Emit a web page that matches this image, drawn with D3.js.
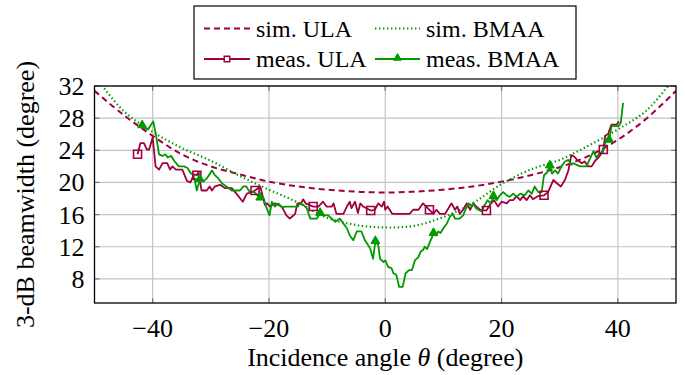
<!DOCTYPE html>
<html>
<head>
<meta charset="utf-8"/>
<script src="https://d3js.org/d3.v7.min.js"></script>
</head>
<body style="margin:0">
<script>

// simulated curves, read at 5 degree steps
var simAngles = [-50, -45, -40, -35, -30, -25, -20, -15, -10, -5, 0, 5, 10, 15, 20, 25, 30, 35, 40, 45, 50];
var simULA  = [31.4, 28.4, 25.8, 23.5, 22.0, 21.0, 20.1, 19.5, 19.1, 18.85, 18.75, 18.85, 19.1, 19.5, 20.1, 20.9, 21.9, 23.3, 25.3, 28.0, 31.4];
var simBMAA = [33.3, 28.9, 26.3, 24.3, 22.7, 20.8, 19.1, 17.5, 15.6, 14.7, 14.4, 14.6, 15.7, 17.4, 19.8, 21.6, 22.8, 24.6, 26.6, 29.0, 33.3];

// measured ULA: [angle, beamwidth]
var measULA = [
  [-42.6,23.5],[-42.1,24.9],[-41.5,24.9],[-41.0,24.1],[-40.6,24.1],[-40.0,25.6],[-39.5,22.0],[-38.9,21.6],
  [-38.3,22.4],[-37.5,22.4],[-37.0,21.6],[-36.6,22.0],[-36.0,21.6],[-34.9,21.6],[-34.1,20.2],[-33.5,20.0],
  [-32.9,21.0],[-32.4,20.9],[-32.1,21.3],[-31.6,19.0],[-30.7,19.0],[-30.2,19.5],[-29.8,19.0],[-29.3,19.5],
  [-28.4,19.7],[-27.6,19.3],[-26.4,19.3],[-25.6,18.6],[-24.5,17.6],[-23.8,18.6],[-23.0,18.8],[-22.4,19.0],
  [-21.5,19.5],[-20.7,17.2],[-20.3,17.4],[-19.8,17.0],[-19.0,17.4],[-17.8,17.0],[-17.0,15.9],[-16.4,15.5],
  [-16.1,15.7],[-15.5,16.1],[-15.1,17.4],[-14.5,17.4],[-14.1,17.9],[-13.7,17.4],[-12.4,17.0],[-11.5,17.0],
  [-10.7,17.6],[-10.1,17.0],[-9.2,17.0],[-8.9,17.4],[-8.4,16.1],[-7.2,16.1],[-6.6,17.0],[-6.1,17.6],
  [-5.8,16.8],[-5.2,17.6],[-4.7,16.2],[-4.3,17.4],[-3.8,17.0],[-2.5,16.5],[-1.8,16.6],[-1.2,17.4],
  [-0.6,17.0],[-0.2,17.6],[0.0,16.6],[0.4,17.0],[1.2,16.1],[4.2,16.1],[4.8,16.6],[5.7,16.6],
  [6.5,17.4],[7.6,16.6],[8.3,16.1],[8.8,16.6],[9.4,16.1],[10.3,16.1],[11.4,17.4],[12.0,16.6],
  [12.4,17.0],[12.8,16.1],[13.4,16.6],[14.0,17.4],[14.6,16.6],[15.1,17.4],[15.7,17.0],[16.3,16.6],
  [17.4,16.5],[18.0,17.2],[18.7,17.8],[19.4,17.0],[20.0,17.6],[20.9,17.4],[21.4,17.8],[22.0,17.8],
  [22.6,18.3],[23.2,17.8],[23.7,18.3],[24.3,17.8],[24.9,18.4],[25.4,17.9],[26.3,18.3],[27.3,18.4],
  [28.0,18.8],[28.9,20.3],[29.5,19.9],[30.2,19.5],[30.9,20.3],[31.5,21.5],[32.0,23.4],[32.5,23.2],
  [33.0,22.8],[33.8,22.4],[34.3,22.6],[34.9,22.0],[35.5,22.0],[36.1,22.7],[36.8,23.2],[37.5,24.1],
  [37.8,25.8],[38.3,26.0],[38.9,27.2],[39.8,27.2],[40.2,27.6]
];

// measured BMAA: [angle, beamwidth]
var measBMAA = [
  [-41.8,27.0],[-41.0,26.6],[-40.6,26.8],[-39.9,27.6],[-39.5,26.2],[-38.9,23.5],[-38.3,23.3],[-37.8,23.5],
  [-37.4,23.1],[-36.8,23.3],[-36.3,22.7],[-35.5,22.0],[-34.6,22.0],[-34.0,21.8],[-33.5,21.2],[-33.0,20.9],
  [-32.7,20.1],[-32.4,19.0],[-31.9,20.3],[-31.3,20.1],[-30.7,20.5],[-29.8,21.5],[-29.3,20.9],[-28.7,20.5],
  [-28.1,19.9],[-27.3,19.5],[-26.4,19.0],[-25.0,19.0],[-24.4,19.5],[-23.9,19.5],[-23.3,18.8],[-22.5,18.8],
  [-21.5,18.0],[-21.0,18.2],[-20.4,16.8],[-19.9,15.9],[-19.5,17.6],[-19.0,17.0],[-18.4,17.4],[-17.8,16.9],
  [-17.2,17.0],[-15.0,17.0],[-14.7,17.4],[-14.1,17.2],[-13.5,16.8],[-12.9,15.5],[-11.8,15.5],[-11.2,16.1],
  [-10.7,15.9],[-9.8,15.9],[-9.2,15.5],[-8.6,15.1],[-8.2,15.3],[-7.8,15.5],[-7.2,14.9],[-6.6,14.3],
  [-6.1,13.4],[-5.5,12.8],[-4.9,13.9],[-4.1,13.9],[-3.5,12.8],[-2.6,11.8],[-2.1,10.5],[-1.7,12.6],
  [-1.2,12.2],[-0.9,10.5],[-0.3,10.1],[0.0,10.3],[0.5,9.5],[1.1,9.3],[1.4,8.7],[1.9,8.5],
  [2.4,7.0],[3.0,7.0],[3.5,8.7],[4.1,9.1],[4.6,9.1],[5.1,10.3],[5.7,10.7],[6.1,11.4],
  [6.5,11.6],[6.8,12.0],[7.2,11.7],[7.7,12.6],[8.3,13.6],[8.7,13.4],[9.1,13.9],[9.5,13.7],
  [10.0,14.3],[10.6,14.9],[11.1,15.7],[11.6,16.1],[12.0,15.5],[12.8,15.5],[13.4,15.9],[13.9,16.8],
  [14.3,17.4],[14.9,17.0],[15.1,17.4],[15.6,16.8],[16.0,16.6],[16.6,16.4],[17.1,17.2],[17.6,17.8],
  [18.1,17.4],[18.6,18.2],[19.2,17.8],[19.7,18.4],[20.3,18.8],[20.9,18.4],[21.4,18.2],[22.0,18.6],
  [22.6,18.2],[23.2,18.6],[24.0,18.4],[24.6,19.0],[25.2,18.6],[25.7,19.5],[26.3,18.8],[26.9,18.8],
  [27.3,20.9],[27.8,21.2],[28.3,22.0],[28.7,21.1],[29.2,21.5],[29.7,21.1],[30.3,22.0],[30.9,22.6],
  [31.5,22.8],[32.0,22.2],[32.3,22.4],[33.5,22.0],[34.6,22.0],[35.8,23.9],[36.3,23.1],[36.9,23.7],
  [37.4,23.7],[38.0,25.4],[38.5,25.2],[38.9,27.0],[40.1,27.0],[40.5,27.4],[40.9,29.9]
];

// angles where pgfplots put the marks
var ulaMarks  = [-42.6, -32.4, -22.4, -12.4, -2.5, 7.6, 17.4, 27.3, 37.5];
var bmaaMarks = [-41.8, -31.9, -21.5, -11.2, -1.7, 8.3, 18.6, 28.3, 38.5];

var xTicks = [-40, -20, 0, 20, 40];
var yTicks = [8, 12, 16, 20, 24, 28, 32];

var colULA = "#a0003f", colBMAA = "#009900";
var gridCol = "#c4c4c4", tickCol = "#7a7a7a";

var W = 685, H = 375;
var margin = { top: 86, right: 9, bottom: 72, left: 94.5 },
    width = W - margin.left - margin.right,
    height = H - margin.top - margin.bottom;

var svg = d3.select("body").append("svg")
    .attr("width", W)
    .attr("height", H)
    .style("display", "block");

var g = svg.append("g")
    .attr("transform", "translate(" + margin.left + "," + margin.top + ")");

var x = d3.scaleLinear().domain([-50, 50]).range([0, width]);
var y = d3.scaleLinear().domain([5, 32]).range([height, 0]);

svg.append("defs").append("clipPath").attr("id", "clip")
  .append("rect").attr("width", width).attr("height", height);

// grid
g.selectAll(".gx").data(xTicks).enter().append("line")
    .attr("x1", d => x(d)).attr("x2", d => x(d))
    .attr("y1", 0).attr("y2", height)
    .attr("stroke", gridCol).attr("stroke-width", 1.2);
g.selectAll(".gy").data(yTicks).enter().append("line")
    .attr("x1", 0).attr("x2", width)
    .attr("y1", d => y(d)).attr("y2", d => y(d))
    .attr("stroke", gridCol).attr("stroke-width", 1.2);

// inward tick marks on all four sides
var tl = 5;
xTicks.forEach(function(t) {
  g.append("line").attr("x1", x(t)).attr("x2", x(t)).attr("y1", height).attr("y2", height - tl).attr("stroke", tickCol).attr("stroke-width", 1.2);
  g.append("line").attr("x1", x(t)).attr("x2", x(t)).attr("y1", 0).attr("y2", tl).attr("stroke", tickCol).attr("stroke-width", 1.2);
});
yTicks.forEach(function(t) {
  g.append("line").attr("x1", 0).attr("x2", tl).attr("y1", y(t)).attr("y2", y(t)).attr("stroke", tickCol).attr("stroke-width", 1.2);
  g.append("line").attr("x1", width).attr("x2", width - tl).attr("y1", y(t)).attr("y2", y(t)).attr("stroke", tickCol).attr("stroke-width", 1.2);
});

// tick labels
var fmt = d3.format("d");
g.selectAll(".xl").data(xTicks).enter().append("text")
    .attr("font-family", "Times New Roman")
    .attr("font-size", 26)
    .attr("x", d => x(d)).attr("y", height + 34)
    .attr("text-anchor", "middle")
    .text(d => fmt(d));
g.selectAll(".yl").data(yTicks).enter().append("text")
    .attr("font-family", "Times New Roman")
    .attr("font-size", 26)
    .attr("x", -10).attr("y", d => y(d) + 9)
    .attr("text-anchor", "end")
    .text(d => fmt(d));

// axis titles
var xt = svg.append("text")
    .attr("font-family", "Times New Roman")
    .attr("font-size", 26)
    .attr("x", margin.left + x(0)).attr("y", 366)
    .attr("text-anchor", "middle");
xt.append("tspan").text("Incidence angle ");
xt.append("tspan").attr("font-style", "italic").text("θ");
xt.append("tspan").text(" (degree)");

svg.append("text")
    .attr("font-family", "Times New Roman")
    .attr("font-size", 26)
    .attr("transform", "translate(34," + (margin.top + height / 2) + ") rotate(-90)")
    .attr("text-anchor", "middle")
    .text("3-dB beamwidth (degree)");

// curves
var plot = g.append("g").attr("clip-path", "url(#clip)");

var simLine = d3.line()
    .x(function(d, i) { return x(simAngles[i]); })
    .y(function(d) { return y(d); })
    .curve(d3.curveCatmullRom);

plot.append("path").datum(simULA)
    .attr("d", simLine)
    .attr("fill", "none").attr("stroke", colULA)
    .attr("stroke-width", 2).attr("stroke-dasharray", "6,4");

plot.append("path").datum(simBMAA)
    .attr("d", simLine)
    .attr("fill", "none").attr("stroke", colBMAA)
    .attr("stroke-width", 2.2).attr("stroke-dasharray", "1.4,2.6");

var measLine = d3.line()
    .x(d => x(d[0]))
    .y(d => y(d[1]));

plot.append("path").datum(measULA)
    .attr("d", measLine)
    .attr("fill", "none").attr("stroke", colULA)
    .attr("stroke-width", 1.8).attr("stroke-linejoin", "round");

plot.append("path").datum(measBMAA)
    .attr("d", measLine)
    .attr("fill", "none").attr("stroke", colBMAA)
    .attr("stroke-width", 1.8).attr("stroke-linejoin", "round");

function nearest(data, a) {
  return data.reduce(function(p, c) { return Math.abs(c[0] - a) < Math.abs(p[0] - a) ? c : p; });
}

var sq = d3.symbol().type(d3.symbolSquare).size(64);
var tri = d3.symbol().type(d3.symbolTriangle).size(34);

plot.selectAll(".mu").data(ulaMarks.map(a => nearest(measULA, a))).enter().append("path")
    .attr("d", sq)
    .attr("transform", d => "translate(" + x(d[0]) + "," + y(d[1]) + ")")
    .attr("fill", "none").attr("stroke", colULA).attr("stroke-width", 1.6);

plot.selectAll(".mb").data(bmaaMarks.map(a => nearest(measBMAA, a))).enter().append("path")
    .attr("d", tri)
    .attr("transform", d => "translate(" + x(d[0]) + "," + (y(d[1]) - 1) + ")")
    .attr("fill", colBMAA).attr("stroke", colBMAA).attr("stroke-width", 1);

// frame
g.append("rect")
    .attr("width", width).attr("height", height)
    .attr("fill", "none").attr("stroke", "#000").attr("stroke-width", 1.3);

// legend
var lg = svg.append("g");
lg.append("rect")
    .attr("x", 194).attr("y", 6).attr("width", 382).attr("height", 73)
    .attr("fill", "#fff").attr("stroke", "#000").attr("stroke-width", 1.2);

var legendItems = [
  { label: "sim. ULA",   col: colULA,  dash: "6,4",     mark: null,  lx: 204, ly: 28.5 },
  { label: "sim. BMAA",  col: colBMAA, dash: "1.4,2.6", mark: null,  lx: 375, ly: 28.5 },
  { label: "meas. ULA",  col: colULA,  dash: null,      mark: "sq",  lx: 204, ly: 59 },
  { label: "meas. BMAA", col: colBMAA, dash: null,      mark: "tri", lx: 375, ly: 59 }
];

legendItems.forEach(function(it) {
  var len = it.lx < 300 ? 46 : 45;
  lg.append("line")
      .attr("x1", it.lx).attr("x2", it.lx + len)
      .attr("y1", it.ly).attr("y2", it.ly)
      .attr("stroke", it.col).attr("stroke-width", it.dash === "1.4,2.6" ? 2.2 : 1.8)
      .attr("stroke-dasharray", it.dash);
  var cx = it.lx + len / 2;
  if (it.mark === "sq") {
    lg.append("path").attr("d", d3.symbol().type(d3.symbolSquare).size(30))
      .attr("transform", "translate(" + cx + "," + it.ly + ")")
      .attr("fill", "#fff").attr("stroke", it.col).attr("stroke-width", 1.5);
  } else if (it.mark === "tri") {
    lg.append("path").attr("d", d3.symbol().type(d3.symbolTriangle).size(26))
      .attr("transform", "translate(" + cx + "," + (it.ly - 1) + ")")
      .attr("fill", it.col).attr("stroke", it.col).attr("stroke-width", 1);
  }
  lg.append("text")
      .attr("font-family", "Times New Roman")
      .attr("font-size", 24)
      .attr("x", it.lx + len + 6).attr("y", it.ly + 8)
      .text(it.label);
});

</script>
</body>
</html>
